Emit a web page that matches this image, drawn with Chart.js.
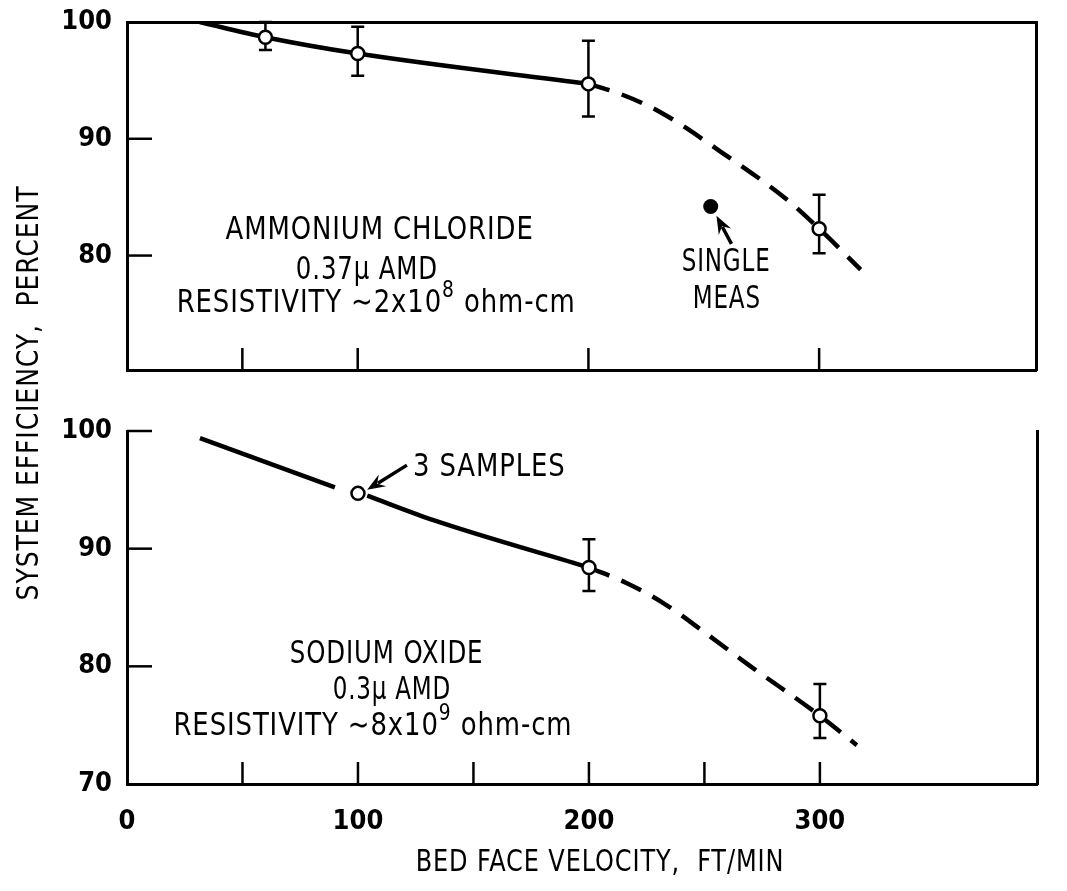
<!DOCTYPE html>
<html><head><meta charset="utf-8">
<script src="https://cdn.jsdelivr.net/npm/chart.js@4.4.0/dist/chart.umd.min.js"></script>
<style>
html,body{margin:0;padding:0;background:#fff;width:1067px;height:891px;overflow:hidden}
#cBot{position:absolute;left:0;top:0}
#cTop{position:absolute;left:0;top:0;z-index:2}
</style></head><body>
<canvas id="cBot" width="1067" height="891"></canvas>
<canvas id="cTop" width="1067" height="400"></canvas>
<script>
// ---------- tick values ----------
const xTickLabels = [0, 100, 200, 300];
const topYTickLabels = [80, 90, 100];
const botYTickLabels = [70, 80, 90, 100];
const topXTickMarks = [50, 100, 200, 300];
const botXTickMarks = [50, 100, 150, 200, 250, 300];
const topYTickMarks = [80, 90];
const botYTickMarks = [80, 90, 100];

// ---------- Ammonium chloride (upper panel) ----------
const nh4clX  = [60, 100, 200, 300];
const nh4clY  = [98.7, 97.3, 94.7, 82.3];
const nh4clHi = [100, 99.6, 98.4, 85.2];
const nh4clLo = [97.6, 95.4, 91.9, 80.2];
const nh4clSolidX = [31.5, 60, 100, 200];
const nh4clSolidY = [100, 98.7, 97.3, 94.7];
const nh4clDashX  = [200, 213, 231, 258, 286, 300, 318];
const nh4clDashY  = [94.7, 93.9, 92.3, 88.8, 84.8, 82.3, 78.8];
const singleMeasX = [253];
const singleMeasY = [84.2];

// ---------- Sodium oxide (lower panel) ----------
const na2oX = [100, 200, 300];
const na2oY = [94.7, 88.4, 75.8];
const na2oErrX = [200, 300];
const na2oHi = [90.8, 78.5];
const na2oLo = [86.4, 73.9];
const na2oSolid1X = [31.6, 90];
const na2oSolid1Y = [99.4, 95.2];
const na2oSolid2X = [104, 133, 200];
const na2oSolid2Y = [94.5, 92.4, 88.4];
const na2oDashX = [200, 216, 232, 250, 270, 300, 316];
const na2oDashY = [88.4, 87.1, 85.4, 82.9, 80.0, 75.8, 73.3];

// ---------- helpers ----------
const F = '"DejaVu Sans Condensed","DejaVu Sans",sans-serif';
const pts = (xs, ys) => xs.map((x, i) => ({x: x, y: ys[i]}));
const setTicks = vals => scale => { scale.ticks = vals.map(v => ({value: v})); };
const fixW = w => scale => { scale.width = w; scale.paddingTop = 0; scale.paddingBottom = 0; scale.paddingLeft = 0; scale.paddingRight = 0; };
const fixH = h => scale => { scale.height = h; scale.paddingTop = 0; scale.paddingBottom = 0; scale.paddingLeft = 0; scale.paddingRight = 0; };
const BORDER = {display: true, color: '#000', width: 3};

function drawRich(ctx, str, cx, cy, size, align, sx) {
  // '^' marks the next char as superscript; sx = horizontal condensing
  sx = sx || 0.9;
  const parts = [];
  let buf = '';
  for (let i = 0; i < str.length; i++) {
    if (str[i] === '^') { if (buf) parts.push({t: buf}); buf = ''; parts.push({t: str[i + 1], sup: true}); i++; }
    else buf += str[i];
  }
  if (buf) parts.push({t: buf});
  ctx.save();
  ctx.translate(cx, cy);
  ctx.scale(sx, 1);
  ctx.fillStyle = '#000';
  ctx.textBaseline = 'middle';
  ctx.textAlign = 'left';
  try { ctx.letterSpacing = '1px'; } catch (e) {}
  const widths = parts.map(p => { ctx.font = (p.sup ? size * 0.72 : size) + 'px ' + F; return ctx.measureText(p.t).width; });
  const total = widths.reduce((a, b) => a + b, 0);
  let x = align === 'left' ? 0 : -total / 2;
  parts.forEach((p, i) => {
    ctx.font = (p.sup ? size * 0.72 : size) + 'px ' + F;
    ctx.fillText(p.t, x, p.sup ? -size * 0.4 : 0);
    x += widths[i];
  });
  ctx.restore();
}

function makePaper(cfg) {
  return {
    id: 'paper',
    beforeDatasetsDraw(chart) {
      const ctx = chart.ctx, xs = chart.scales.x, ys = chart.scales.y;
      ctx.save();
      ctx.strokeStyle = '#000'; ctx.lineWidth = 2.5; ctx.lineCap = 'butt';
      (cfg.errorBars || []).forEach(eb => {
        eb.x.forEach((xv, i) => {
          const px = xs.getPixelForValue(xv), ph = ys.getPixelForValue(eb.hi[i]), pl = ys.getPixelForValue(eb.lo[i]);
          ctx.beginPath();
          ctx.moveTo(px, ph); ctx.lineTo(px, pl);
          ctx.moveTo(px - 6.5, ph); ctx.lineTo(px + 6.5, ph);
          ctx.moveTo(px - 6.5, pl); ctx.lineTo(px + 6.5, pl);
          ctx.stroke();
        });
      });
      ctx.restore();
    },
    afterDraw(chart) {
      const ctx = chart.ctx, xs = chart.scales.x, ys = chart.scales.y, a = chart.chartArea;
      ctx.save();
      ctx.strokeStyle = '#000'; ctx.lineWidth = 2.5;
      // inward tick marks
      (cfg.xMarks || []).forEach(v => {
        const px = xs.getPixelForValue(v);
        ctx.beginPath(); ctx.moveTo(px, a.bottom); ctx.lineTo(px, a.bottom - 22); ctx.stroke();
      });
      (cfg.yMarks || []).forEach(v => {
        const py = ys.getPixelForValue(v);
        ctx.beginPath(); ctx.moveTo(a.left, py); ctx.lineTo(a.left + 25, py); ctx.stroke();
      });
      // arrows (data coordinates, head at tip)
      (cfg.arrows || []).forEach(ar => {
        const x1 = xs.getPixelForValue(ar.from[0]), y1 = ys.getPixelForValue(ar.from[1]);
        const x2 = xs.getPixelForValue(ar.to[0]), y2 = ys.getPixelForValue(ar.to[1]);
        const ang = Math.atan2(y2 - y1, x2 - x1), L = 18, W = 7;
        const c = Math.cos(ang), s = Math.sin(ang);
        ctx.lineWidth = 3.5;
        ctx.beginPath(); ctx.moveTo(x1, y1);
        ctx.lineTo(x2 - c * L * 0.7, y2 - s * L * 0.7); ctx.stroke();
        ctx.beginPath();
        ctx.moveTo(x2, y2);
        ctx.lineTo(x2 - c * L + s * W, y2 - s * L - c * W);
        ctx.lineTo(x2 - c * L * 0.65, y2 - s * L * 0.65);
        ctx.lineTo(x2 - c * L - s * W, y2 - s * L + c * W);
        ctx.closePath(); ctx.fillStyle = '#000'; ctx.fill();
      });
      ctx.restore();
      // annotation texts (data coordinates)
      (cfg.texts || []).forEach(t => {
        drawRich(ctx, t.text, xs.getPixelForValue(t.x), ys.getPixelForValue(t.y), t.size || 32, t.align || 'center', t.sx);
      });
      // axis titles
      (cfg.titles || []).forEach(t => {
        ctx.save();
        ctx.translate(t.px, t.py);
        if (t.rotate) ctx.rotate(-Math.PI / 2);
        drawRich(ctx, t.text, 0, 0, t.size, 'center', t.sx);
        ctx.restore();
      });
    }
  };
}

const lineDs = (data, dashed) => ({
  data: data, showLine: true, pointRadius: 0, borderColor: '#000', borderWidth: 4.5,
  borderDash: dashed ? [22, 13] : [], borderCapStyle: 'butt', fill: false,
  tension: 0.4, cubicInterpolationMode: 'monotone', order: 3,
  xAxisID: 'x', yAxisID: 'y'
});
const circleDs = (data, filled, r) => ({
  data: data, showLine: false, pointStyle: 'circle', pointRadius: r || 6.5,
  pointBackgroundColor: filled ? '#000' : '#fff', pointBorderColor: '#000',
  pointBorderWidth: filled ? 0 : 2.5, order: 0, xAxisID: 'x', yAxisID: 'y'
});
const tickFont = {family: F, size: 27, weight: 'bold'};

// ---------- upper chart ----------
new Chart(document.getElementById('cTop'), {
  type: 'scatter',
  data: {datasets: [
    lineDs(pts(nh4clSolidX, nh4clSolidY), false),
    lineDs(pts(nh4clDashX, nh4clDashY), true),
    circleDs(pts(nh4clX, nh4clY), false),
    circleDs(pts(singleMeasX, singleMeasY), true, 7.5)
  ]},
  options: {
    responsive: false, animation: false, events: [],
    layout: {padding: 0},
    plugins: {legend: {display: false}, tooltip: {enabled: false}},
    scales: {
      x: {type: 'linear', min: 0, max: 394, position: 'bottom', afterFit: fixH(30),
          ticks: {display: false}, grid: {display: false, drawTicks: false}, border: BORDER},
      xt: {type: 'linear', min: 0, max: 394, position: 'top', afterFit: fixH(22),
          ticks: {display: false}, grid: {display: false, drawTicks: false}, border: BORDER},
      y: {type: 'linear', min: 70.2, max: 100, position: 'left', afterFit: fixW(127),
          afterBuildTicks: setTicks(topYTickLabels),
          ticks: {color: '#000', padding: 15, font: tickFont},
          grid: {display: false, drawTicks: false}, border: BORDER},
      yr: {type: 'linear', min: 70.2, max: 100, position: 'right', afterFit: fixW(31),
          ticks: {display: false}, grid: {display: false, drawTicks: false}, border: BORDER}
    }
  },
  plugins: [makePaper({
    errorBars: [{x: nh4clX, hi: nh4clHi, lo: nh4clLo}],
    xMarks: topXTickMarks, yMarks: topYTickMarks,
    arrows: [{from: [262, 81.0], to: [255.5, 83.4]}],
    texts: [
      {text: 'AMMONIUM CHLORIDE', x: 109.5, y: 82.1},
      {text: '0.37\u03BC AMD', x: 104, y: 78.7, sx: 0.85},
      {text: 'RESISTIVITY \u223C2x10^8 ohm-cm', x: 108, y: 75.9},
      {text: 'SINGLE', x: 259.7, y: 79.4, sx: 0.8},
      {text: 'MEAS', x: 260, y: 76.25, sx: 0.8}
    ]
  })]
});

// ---------- lower chart ----------
new Chart(document.getElementById('cBot'), {
  type: 'scatter',
  data: {datasets: [
    lineDs(pts(na2oSolid1X, na2oSolid1Y), false),
    lineDs(pts(na2oSolid2X, na2oSolid2Y), false),
    lineDs(pts(na2oDashX, na2oDashY), true),
    circleDs(pts(na2oX, na2oY), false)
  ]},
  options: {
    responsive: false, animation: false, events: [],
    layout: {padding: {top: 431}},
    plugins: {legend: {display: false}, tooltip: {enabled: false}},
    scales: {
      x: {type: 'linear', min: 0, max: 394, position: 'bottom', afterFit: fixH(107),
          afterBuildTicks: setTicks(xTickLabels),
          ticks: {color: '#000', padding: 22, font: tickFont, autoSkip: false, maxRotation: 0},
          grid: {display: false, drawTicks: false}, border: BORDER},
      y: {type: 'linear', min: 70, max: 100, position: 'left', afterFit: fixW(127),
          afterBuildTicks: setTicks(botYTickLabels),
          ticks: {color: '#000', padding: 15, font: tickFont},
          grid: {display: false, drawTicks: false}, border: BORDER},
      yr: {type: 'linear', min: 70, max: 100, position: 'right', afterFit: fixW(30),
          ticks: {display: false}, grid: {display: false, drawTicks: false}, border: BORDER}
    }
  },
  plugins: [makePaper({
    errorBars: [{x: na2oErrX, hi: na2oHi, lo: na2oLo}],
    xMarks: botXTickMarks, yMarks: botYTickMarks,
    arrows: [{from: [121.2, 97.1], to: [104, 95.0]}],
    texts: [
      {text: '3 SAMPLES', x: 123.8, y: 96.9, align: 'left'},
      {text: 'SODIUM OXIDE', x: 112.4, y: 81.0, sx: 0.85},
      {text: '0.3\u03BC AMD', x: 114.7, y: 77.9, sx: 0.8},
      {text: 'RESISTIVITY \u223C8x10^9 ohm-cm', x: 106.5, y: 74.9}
    ],
    titles: [
      {text: 'BED FACE VELOCITY,  FT/MIN', px: 600, py: 863, size: 30, sx: 0.89},
      {text: 'SYSTEM EFFICIENCY,  PERCENT', px: 30, py: 393, size: 31, sx: 0.9, rotate: true}
    ]
  })]
});
</script>
</body></html>
